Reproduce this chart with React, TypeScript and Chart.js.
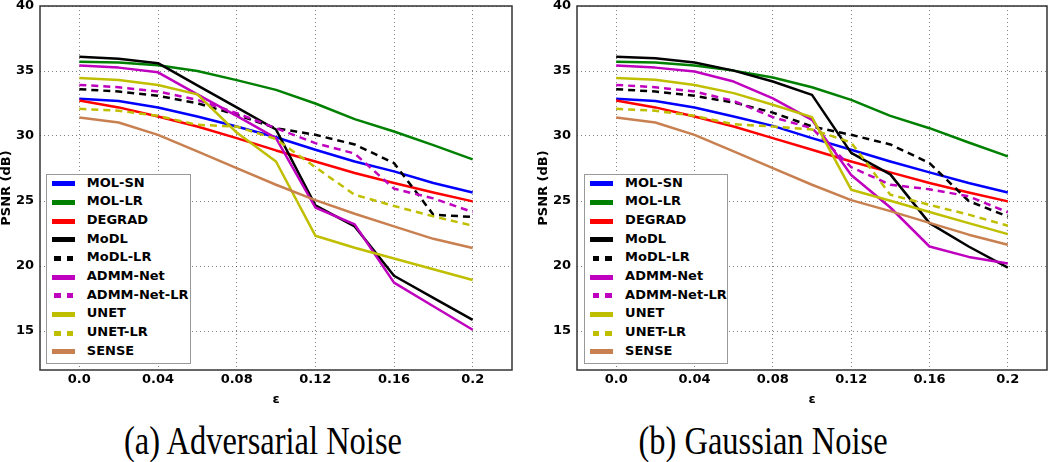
import React, { useEffect, useRef } from "react";
import { Chart, registerables } from "chart.js";

Chart.register(...registerables);

// ---------- data ----------
const eps = [0, 0.02, 0.04, 0.06, 0.08, 0.1, 0.12, 0.14, 0.16, 0.18, 0.2];
const xTickValues = [0, 0.04, 0.08, 0.12, 0.16, 0.2];
const xTickLabels = ["0.0", "0.04", "0.08", "0.12", "0.16", "0.2"];
const yTickValues = [15, 20, 25, 30, 35, 40];

const seriesNames = [
  "MOL-SN",
  "MOL-LR",
  "DEGRAD",
  "MoDL",
  "MoDL-LR",
  "ADMM-Net",
  "ADMM-Net-LR",
  "UNET",
  "UNET-LR",
  "SENSE",
];
const seriesColors = [
  "#0000ff",
  "#008000",
  "#ff0000",
  "#000000",
  "#000000",
  "#bf00bf",
  "#bf00bf",
  "#bfbf00",
  "#bfbf00",
  "#c88050",
];
const seriesDashed = [false, false, false, false, true, false, true, false, true, false];

// (a) Adversarial noise
const advMolSn = [32.86, 32.7, 32.19, 31.5, 30.73, 29.9, 28.94, 28.04, 27.28, 26.38, 25.66];
const advMolLr = [35.72, 35.65, 35.45, 35.0, 34.3, 33.55, 32.5, 31.3, 30.35, 29.3, 28.2];
const advDegrad = [32.73, 32.2, 31.5, 30.73, 29.84, 28.89, 28.04, 27.15, 26.38, 25.66, 24.97];
const advModl = [36.1, 35.95, 35.6, 33.9, 32.2, 30.5, 24.66, 23.05, 19.25, 17.55, 15.85];
const advModlLr = [33.6, 33.42, 33.09, 32.52, 31.63, 30.6, 30.09, 29.35, 27.92, 23.95, 23.77];
const advAdmm = [35.42, 35.26, 34.9, 33.2, 31.55, 29.84, 24.5, 23.2, 18.72, 16.9, 15.1];
const advAdmmLr = [33.93, 33.75, 33.42, 32.78, 31.76, 30.6, 29.45, 28.65, 25.95, 25.2, 24.15];
const advUnet = [34.47, 34.3, 33.93, 33.2, 30.27, 28.04, 22.33, 21.4, 20.58, 19.75, 18.92];
const advUnetLr = [32.09, 31.94, 31.55, 30.86, 30.73, 29.76, 27.6, 25.48, 24.62, 23.82, 23.1];
const advSense = [31.42, 31.04, 30.09, 28.81, 27.53, 26.25, 25.07, 24.02, 23.05, 22.09, 21.38];

// (b) Gaussian noise
const gauMolSn = [32.86, 32.7, 32.19, 31.5, 30.78, 29.84, 28.94, 28.04, 27.2, 26.38, 25.66];
const gauMolLr = [35.72, 35.65, 35.42, 35.03, 34.5, 33.75, 32.78, 31.55, 30.6, 29.5, 28.43];
const gauDegrad = [32.73, 32.2, 31.5, 30.73, 29.84, 28.94, 28.04, 27.2, 26.38, 25.66, 24.97];
const gauModl = [36.1, 35.98, 35.65, 35.03, 34.19, 33.16, 28.7, 27.05, 23.3, 21.5, 19.88];
const gauModlLr = [33.6, 33.42, 33.09, 32.58, 31.8, 30.73, 30.09, 29.35, 27.92, 25.0, 23.8];
const gauAdmm = [35.42, 35.26, 34.96, 34.19, 32.9, 31.24, 27.0, 24.5, 21.5, 20.7, 20.2];
const gauAdmmLr = [33.93, 33.75, 33.42, 32.7, 31.45, 30.6, 27.6, 26.25, 25.9, 25.36, 24.13];
const gauUnet = [34.47, 34.32, 33.93, 33.3, 32.4, 31.45, 25.87, 25.02, 24.15, 23.3, 22.45];
const gauUnetLr = [32.09, 31.94, 31.55, 30.9, 30.73, 30.5, 29.5, 25.48, 24.7, 23.95, 23.1];
const gauSense = [31.42, 31.04, 30.09, 28.81, 27.53, 26.25, 25.07, 24.22, 23.32, 22.41, 21.64];

const advSeries = [advMolSn, advMolLr, advDegrad, advModl, advModlLr, advAdmm, advAdmmLr, advUnet, advUnetLr, advSense];
const gauSeries = [gauMolSn, gauMolLr, gauDegrad, gauModl, gauModlLr, gauAdmm, gauAdmmLr, gauUnet, gauUnetLr, gauSense];

// ---------- styling ----------
const FONT = "'DejaVu Sans', 'Liberation Sans', sans-serif";
const CANVAS_H = 410;

const framePlugin = {
  id: "frame",
  afterDatasetsDraw(chart: any) {
    const { ctx, chartArea } = chart;
    const { left, top, right, bottom } = chartArea;
    ctx.save();
    ctx.strokeStyle = "#333";
    ctx.lineWidth = 1.5;
    ctx.setLineDash([]);
    ctx.strokeRect(left, top, right - left, bottom - top);
    ctx.restore();
  },
};

const tickFont = { family: FONT, weight: "bold" as const, size: 13, lineHeight: 1 };
const gridOpts = { color: "rgba(0,0,0,0.5)", lineWidth: 1, drawTicks: false };
const borderOpts = { display: false, dash: [1, 3] };

function ChartPanel({ series, canvasLeft, width, padRight }: { series: number[][]; canvasLeft: number; width: number; padRight: number }) {
  const ref = useRef<HTMLCanvasElement | null>(null);
  useEffect(() => {
    if (!ref.current) return;
    const chart = new Chart(ref.current, {
      type: "line",
      data: {
        datasets: series.map((vals, i) => ({
          label: seriesNames[i],
          data: eps.map((x, j) => ({ x, y: vals[j] })),
          borderColor: seriesColors[i],
          backgroundColor: seriesColors[i],
          borderWidth: 2.5,
          borderDash: seriesDashed[i] ? [7, 5] : [],
          borderCapStyle: "butt",
          borderJoinStyle: "round",
          pointRadius: 0,
          pointHoverRadius: 0,
          fill: false,
          tension: 0,
          order: series.length - i,
        })),
      },
      options: {
        responsive: false,
        animation: false,
        devicePixelRatio: 1,
        layout: { padding: { top: 6, right: padRight, bottom: 0, left: 0 } },
        plugins: { legend: { display: false }, tooltip: { enabled: false } },
        scales: {
          x: {
            type: "linear",
            min: -0.02,
            max: 0.22,
            afterBuildTicks: (s: any) => {
              s.ticks = xTickValues.map((v) => ({ value: v }));
            },
            afterFit: (s: any) => {
              s.height = 40;
              s.paddingLeft = 0;
              s.paddingRight = 0;
            },
            ticks: {
              autoSkip: false,
              maxRotation: 0,
              padding: 3,
              color: "#000",
              font: tickFont,
              callback: (_v: any, idx: number) => xTickLabels[idx],
            },
            grid: gridOpts,
            border: borderOpts,
            title: {
              display: true,
              text: "ε",
              color: "#000",
              font: { family: FONT, weight: "bold", size: 13 },
              padding: { top: 0, bottom: 3 },
            },
          },
          y: {
            type: "linear",
            min: 12,
            max: 40,
            afterBuildTicks: (s: any) => {
              s.ticks = yTickValues.map((v) => ({ value: v }));
            },
            afterFit: (s: any) => {
              s.width = 40;
              s.paddingTop = 0;
              s.paddingBottom = 0;
            },
            ticks: {
              padding: 6,
              color: "#000",
              font: tickFont,
              callback: (v: any) => String(v),
            },
            grid: gridOpts,
            border: borderOpts,
            title: {
              display: true,
              text: "PSNR (dB)",
              color: "#000",
              font: { family: FONT, weight: "bold", size: 13, lineHeight: 1 },
              padding: { top: 0, bottom: 0 },
            },
          },
        },
      },
      plugins: [framePlugin],
    } as any);
    return () => chart.destroy();
  }, [series]);
  return (
    <canvas
      ref={ref}
      width={width}
      height={CANVAS_H}
      style={{ position: "absolute", left: canvasLeft, top: 0, width, height: CANVAS_H }}
    />
  );
}

function Legend({ left, width }: { left: number; width: number }) {
  const rowH = 18.67;
  return (
    <div
      style={{
        position: "absolute",
        left,
        top: 174,
        width,
        height: 190,
        border: "1.5px solid #999",
        background: "#fff",
        boxSizing: "border-box",
      }}
    >
      {seriesNames.map((name, i) => {
        const top = i * rowH - 0.5;
        const c = seriesColors[i];
        return (
          <div key={name} style={{ position: "absolute", left: 0, top, height: rowH, width: "100%" }}>
            {seriesDashed[i] ? (
              <>
                <div style={{ position: "absolute", left: 7.8, top: rowH / 2 - 2.5, width: 6.5, height: 5, background: c }} />
                <div style={{ position: "absolute", left: 20.1, top: rowH / 2 - 2.5, width: 6.5, height: 5, background: c }} />
              </>
            ) : (
              <div style={{ position: "absolute", left: 5.4, top: rowH / 2 - 2.5, width: 22.7, height: 5, background: c }} />
            )}
            <span
              style={{
                position: "absolute",
                left: 40.1,
                top: 0,
                lineHeight: `${rowH}px`,
                font: `bold 13px ${FONT}`,
                color: "#000",
                whiteSpace: "nowrap",
              }}
            >
              {name}
            </span>
          </div>
        );
      })}
    </div>
  );
}

function Caption({ center, text }: { center: number; text: string }) {
  return (
    <div
      style={{
        position: "absolute",
        left: center - 200,
        width: 400,
        top: 426.8,
        textAlign: "center",
        fontFamily: "'Liberation Serif', 'DejaVu Serif', serif",
        fontSize: "32.5px",
        lineHeight: "32.5px",
        color: "#000",
        whiteSpace: "nowrap",
        transform: "scaleY(1.21)",
        transformOrigin: "50% 27.2px",
      }}
    >
      {text}
    </div>
  );
}

export default function App() {
  return (
    <div
      style={{
        position: "fixed",
        left: 0,
        top: 0,
        width: 1050,
        height: 462,
        background: "#fff",
        overflow: "hidden",
      }}
    >
      <ChartPanel series={advSeries} canvasLeft={0} width={520} padRight={8} />
      <ChartPanel series={gauSeries} canvasLeft={537} width={513} padRight={3} />
      <Legend left={45.7} width={145.5} />
      <Legend left={584} width={143.5} />
      <Caption center={263} text="(a) Adversarial Noise" />
      <Caption center={763} text="(b) Gaussian Noise" />
    </div>
  );
}
